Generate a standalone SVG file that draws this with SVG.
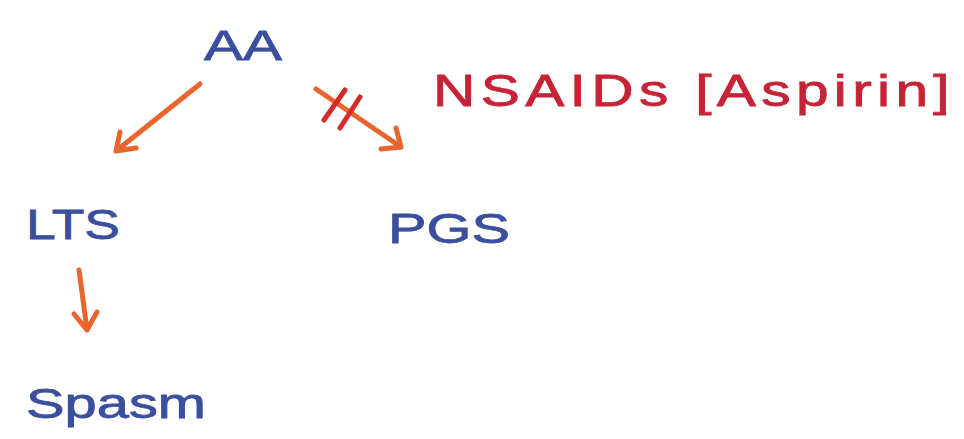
<svg xmlns="http://www.w3.org/2000/svg" width="964" height="439" viewBox="0 0 964 439">
<style>
.node{font-family:"Liberation Sans",Arial,sans-serif;fill:#3b4f9e;stroke:#3b4f9e;stroke-width:0.8;font-size:42px}
.lbl{font-family:"Liberation Sans",Arial,sans-serif;fill:#c62336;stroke:#c62336;stroke-width:0.8;font-size:44px;letter-spacing:4px}
.conn{stroke:#e8652e;stroke-width:5;fill:none;stroke-linecap:round;stroke-linejoin:round}
.block{stroke:#d42a2a;stroke-width:5;stroke-linecap:round}
</style>
<rect width="964" height="439" fill="#ffffff"/>
<g id="node-AA"><text class="node" x="243" y="60" text-anchor="middle" textLength="78" lengthAdjust="spacingAndGlyphs">AA</text></g>
<g id="node-LTS"><text class="node" x="26" y="239" font-size="45" textLength="94" lengthAdjust="spacingAndGlyphs">LTS</text></g>
<g id="node-PGS"><text class="node" x="388" y="243" font-size="50" textLength="122" lengthAdjust="spacingAndGlyphs">PGS</text></g>
<g id="node-Spasm"><text class="node" x="26" y="418" textLength="180" lengthAdjust="spacingAndGlyphs">Spasm</text></g>
<g id="label-NSAIDs"><text class="lbl" x="433" y="106" textLength="522" lengthAdjust="spacingAndGlyphs">NSAIDs [Aspirin]</text></g>
<g id="connectors">
<path class="conn" d="M200 84 L116 151 M116 151 L120 132 M116 151 L136 148"/>
<path class="conn" d="M316 89 L401 147 M401 147 L396 128 M401 147 L381 149"/>
<line class="block" x1="345" y1="90" x2="324" y2="120"/>
<line class="block" x1="360" y1="97" x2="340" y2="128"/>
<path class="conn" d="M79 270 L87 330 M87 330 L74 314 M87 330 L97 312"/>
</g>
</svg>
